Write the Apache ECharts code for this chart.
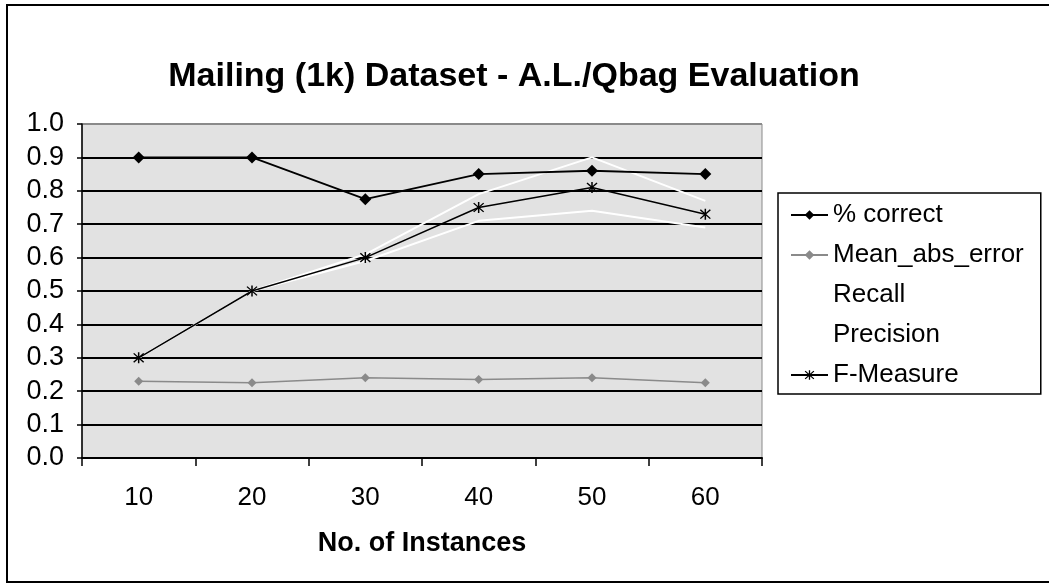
<!DOCTYPE html>
<html>
<head>
<meta charset="utf-8">
<script src="https://cdn.jsdelivr.net/npm/echarts@6/dist/echarts.min.js"></script>
<style>
html,body{margin:0;padding:0;background:#fff;}
#chart{width:1049px;height:584px;}
</style>
</head>
<body>
<div id="chart"></div>
<script>
const titleText = 'Mailing (1k) Dataset - A.L./Qbag Evaluation';
const xAxisName = 'No. of Instances';
const categories = ['10', '20', '30', '40', '50', '60'];
const pctCorrect = [0.90, 0.90, 0.775, 0.85, 0.86, 0.85];
const meanAbsError = [0.23, 0.225, 0.24, 0.235, 0.24, 0.225];
const recall = [0.30, 0.50, 0.61, 0.79, 0.90, 0.77];
const precision = [0.30, 0.50, 0.59, 0.71, 0.74, 0.69];
const fMeasure = [0.30, 0.50, 0.60, 0.75, 0.81, 0.73];
const seriesNames = ['% correct', 'Mean_abs_error', 'Recall', 'Precision', 'F-Measure'];

const FONT = '"Liberation Sans", Arial, sans-serif';
const asterisk = 'path://M4.4,0H5.6V10H4.4Z M0.6,1.4L1.4,0.6L9.4,8.6L8.6,9.4Z M8.6,0.6L9.4,1.4L1.4,9.4L0.6,8.6Z';

const chart = echarts.init(document.getElementById('chart'), null, {renderer: 'canvas'});
const gridColors = ['#000','#000','#000','#000','#000','#000','#000','#000','#000','#000','#8a8a8a'];

chart.setOption({
  animation: false,
  backgroundColor: '#fff',
  title: {
    text: titleText,
    left: 509, top: 55, textAlign: 'center',
    textStyle: {fontFamily: FONT, fontSize: 34, fontWeight: 'bold', color: '#000'}
  },
  graphic: [
    {type: 'rect', shape: {x: 7, y: 5, width: 1080, height: 577}, style: {fill: 'none', stroke: '#000', lineWidth: 2}, silent: true}
  ],
  legend: {
    data: seriesNames,
    orient: 'vertical',
    left: 778, top: 193,
    backgroundColor: '#fff',
    borderColor: '#000', borderWidth: 1.5, borderRadius: 0,
    padding: [9, 17, 6, 12],
    itemWidth: 37, itemHeight: 12, itemGap: 14,
    textStyle: {fontFamily: FONT, fontSize: 26, lineHeight: 25, color: '#000'}
  },
  grid: {
    left: 82, right: 287, top: 124, bottom: 126,
    show: true, backgroundColor: '#e2e2e2', borderColor: '#8a8a8a', borderWidth: 1
  },
  xAxis: {
    type: 'category', data: categories, boundaryGap: true,
    name: xAxisName, nameLocation: 'middle', nameGap: 72,
    nameTextStyle: {fontFamily: FONT, fontSize: 27, fontWeight: 'bold', color: '#000'},
    axisLine: {lineStyle: {color: '#000', width: 2}},
    axisTick: {show: true, length: 8, lineStyle: {color: '#000', width: 1.5}},
    axisLabel: {fontFamily: FONT, fontSize: 26, color: '#000', margin: 27},
    splitLine: {show: false}
  },
  yAxis: {
    type: 'value', min: 0, max: 1, interval: 0.1,
    axisLine: {show: true, lineStyle: {color: '#000', width: 1.5}},
    axisTick: {show: true, length: 5, lineStyle: {color: '#000', width: 1.5}},
    axisLabel: {fontFamily: FONT, fontSize: 27, color: '#000', margin: 18, formatter: v => v.toFixed(1)},
    splitLine: {show: true, lineStyle: {color: gridColors, width: 1.8}}
  },
  series: [
    {name: seriesNames[0], type: 'line', data: pctCorrect, symbol: 'diamond', symbolSize: 12,
      itemStyle: {color: '#000'}, lineStyle: {color: '#000', width: 1.8}, z: 5},
    {name: seriesNames[1], type: 'line', data: meanAbsError, symbol: 'diamond', symbolSize: 9,
      itemStyle: {color: '#8a8a8a'}, lineStyle: {color: '#8a8a8a', width: 1.5}, z: 4},
    {name: seriesNames[2], type: 'line', data: recall, symbol: 'none', showSymbol: false,
      itemStyle: {color: '#fff'}, lineStyle: {color: '#fff', width: 2}, z: 3},
    {name: seriesNames[3], type: 'line', data: precision, symbol: 'none', showSymbol: false,
      itemStyle: {color: '#fff'}, lineStyle: {color: '#fff', width: 2}, z: 3},
    {name: seriesNames[4], type: 'line', data: fMeasure, symbol: asterisk, symbolSize: 11,
      itemStyle: {color: '#000'}, lineStyle: {color: '#000', width: 1.5}, z: 5}
  ]
});
</script>
</body>
</html>
